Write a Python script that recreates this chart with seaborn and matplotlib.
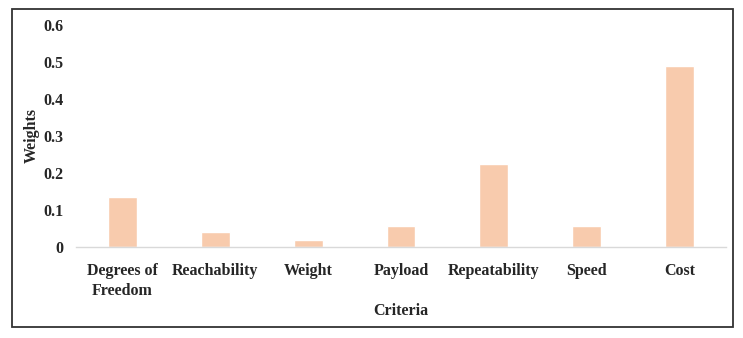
import pandas as pd
import seaborn as sns
import matplotlib.pyplot as plt
from matplotlib.patches import Rectangle

# Data
criteria = ['Degrees of\nFreedom', 'Reachability', 'Weight', 'Payload',
            'Repeatability', 'Speed', 'Cost']
weights = [0.133, 0.039, 0.018, 0.055, 0.223, 0.055, 0.488]

df = pd.DataFrame({'Criteria': criteria, 'Weights': weights})

sns.set_style('white')
plt.rcParams['font.family'] = ['Liberation Serif', 'DejaVu Serif']
plt.rcParams['font.weight'] = 'bold'

fig = plt.figure(figsize=(7.43, 3.38), dpi=100)
ax = fig.add_axes([0.1023, 0.270, 0.8747, 0.6575])

sns.barplot(data=df, x='Criteria', y='Weights', color='#F8CBAD',
            saturation=1, width=0.31, ax=ax)

ax.set_ylim(0, 0.6)
ax.set_xlim(-0.5, len(criteria) - 0.5)
ax.set_yticks([0, 0.1, 0.2, 0.3, 0.4, 0.5, 0.6])
ax.set_yticklabels(['0', '0.1', '0.2', '0.3', '0.4', '0.5', '0.6'])
ax.tick_params(axis='both', length=0, labelsize=11.5)
ax.tick_params(axis='y', pad=9)
ax.tick_params(axis='x', pad=12)
for lbl in ax.get_xticklabels() + ax.get_yticklabels():
    lbl.set_fontweight('bold')
for lbl in ax.get_xticklabels():
    lbl.set_linespacing(1.3)

ax.set_xlabel('Criteria', fontsize=11.5, fontweight='bold')
ax.xaxis.set_label_coords(0.5, -0.255)
ax.set_ylabel('Weights', fontsize=11.5, fontweight='bold')
ax.yaxis.set_label_coords(-0.055, 0.5)

for side in ['left', 'right', 'top']:
    ax.spines[side].set_visible(False)
ax.spines['bottom'].set_color('#D9D9D9')
ax.spines['bottom'].set_linewidth(1)

# Outer frame around the whole chart
fig.patches.append(Rectangle((0.016, 0.0325), 0.9705, 0.9405,
                             transform=fig.transFigure, fill=False,
                             edgecolor='#333333', linewidth=1.3))

fig.savefig('out.png', dpi=100)
